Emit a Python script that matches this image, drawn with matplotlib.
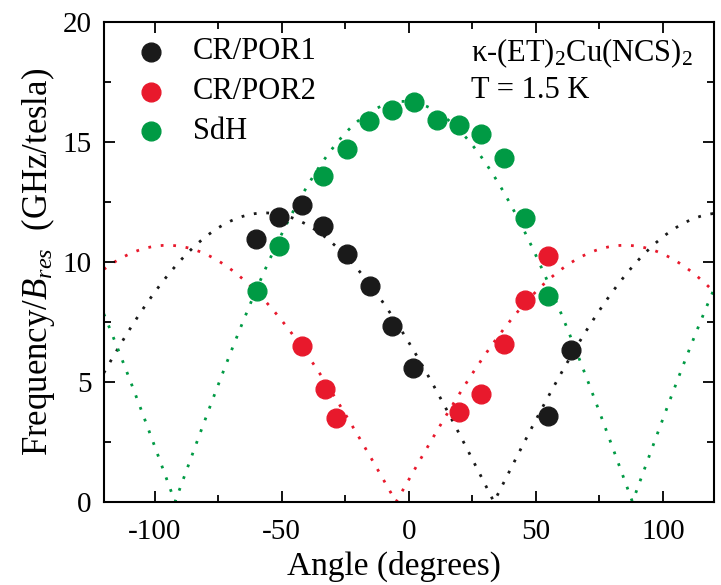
import numpy as np
import matplotlib
matplotlib.use("Agg")
import matplotlib.pyplot as plt
from matplotlib.ticker import MultipleLocator

plt.rcParams['font.family'] = ['Liberation Serif', 'DejaVu Serif']
plt.rcParams['mathtext.fontset'] = 'custom'
plt.rcParams['mathtext.rm'] = 'Liberation Serif'
plt.rcParams['mathtext.it'] = 'Liberation Serif:italic'
plt.rcParams['axes.unicode_minus'] = False

# Data points (angle in degrees, frequency/B_res in GHz/tesla)
cr1_angle = [-60, -51, -42.2, -33.6, -24.5, -15.4, -6.8, 1.8, 54.8, 63.8]
cr1_value = [10.95, 11.9, 12.4, 11.5, 10.35, 9.0, 7.35, 5.6, 3.6, 6.33]

cr2_angle = [-42.2, -33.1, -28.7, 19.7, 28.3, 37.3, 45.9, 54.9]
cr2_value = [6.51, 4.69, 3.51, 3.74, 4.49, 6.57, 8.42, 10.26]

sdh_angle = [-59.8, -51, -33.7, -24.5, -15.5, -6.8, 2.1, 10.9, 19.7, 28.3, 37.3, 45.9, 54.9]
sdh_value = [8.79, 10.67, 13.58, 14.7, 15.88, 16.33, 16.67, 15.94, 15.71, 15.36, 14.32, 11.82, 8.6]

# Fit curves |A cos(theta - theta0)|: amplitude and centre angle
fit_cr1 = (12.05, -56.5)
fit_cr2 = (10.7, -95.0)
fit_sdh = (16.7, -2.0)

black = '#1a1a1a'
red = '#e8192c'
green = '#009a44'

fig = plt.figure(figsize=(7.21, 5.85), dpi=100)
ax = fig.add_axes([0.144, 0.142, 0.846, 0.820])

theta = np.linspace(-120, 120, 600)
for (A, c), col in [(fit_cr1, black), (fit_cr2, red), (fit_sdh, green)]:
    ax.plot(theta, A * np.abs(np.cos(np.radians(theta - c))), linestyle=(0, (1, 3.5)),
            color=col, linewidth=2.0, zorder=1)

ms = 13.5
ax.plot(cr1_angle, cr1_value, 'o', color=black, markersize=ms, linestyle='none', zorder=3)
ax.plot(cr2_angle, cr2_value, 'o', color=red, markersize=ms, linestyle='none', zorder=3)
ax.plot(sdh_angle, sdh_value, 'o', color=green, markersize=ms, linestyle='none', zorder=3)

ax.set_xlim(-120, 120)
ax.set_ylim(0, 20)
ax.xaxis.set_major_locator(MultipleLocator(50))
ax.xaxis.set_minor_locator(MultipleLocator(25))
ax.yaxis.set_major_locator(MultipleLocator(5))
ax.yaxis.set_minor_locator(MultipleLocator(2.5))
ax.tick_params(which='both', direction='in', top=True, right=True, labelsize=21, width=1.3)
ax.tick_params(which='major', length=8)
ax.tick_params(axis='x', which='major', pad=12)
ax.tick_params(axis='y', which='major', pad=9)
ax.tick_params(which='minor', length=5)
for s in ax.spines.values():
    s.set_linewidth(1.5)

ax.set_xlabel('Angle (degrees)', fontsize=24)
ax.xaxis.set_label_coords(0.476, -0.102)
ax.set_ylabel(r'Frequency/$B_{res}$  (GHz/tesla)', fontsize=25, labelpad=4)

# Legend drawn as text/markers in axes coordinates
labels = ['CR/POR1', 'CR/POR2', 'SdH']
cols = [black, red, green]
ys = [0.938, 0.855, 0.773]
for lab, col, yy in zip(labels, cols, ys):
    ax.plot([0.078], [yy], 'o', color=col, markersize=ms, transform=ax.transAxes, clip_on=False)
    ax.text(0.146, yy, lab, transform=ax.transAxes, fontsize=22, va='center', ha='left')

ax.text(0.602, 0.935, 'κ-(ET)$_2$Cu(NCS)$_2$', transform=ax.transAxes, fontsize=22,
        va='center', ha='left')
ax.text(0.602, 0.858, 'T = 1.5 K', transform=ax.transAxes, fontsize=22, va='center', ha='left')

fig.savefig('out.png', dpi=100)
